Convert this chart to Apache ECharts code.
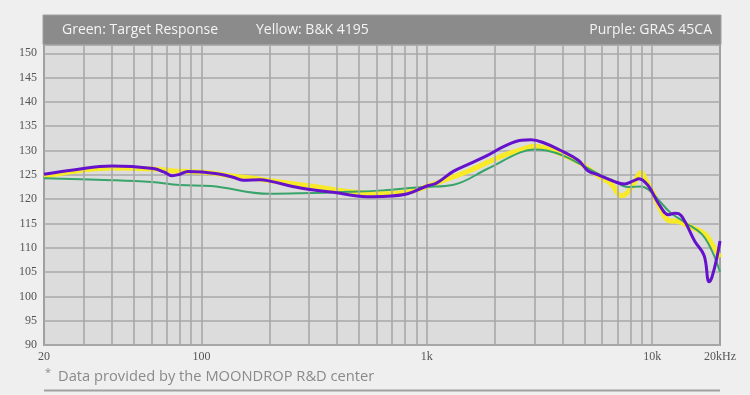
<!DOCTYPE html>
<html>
<head>
<meta charset="utf-8">
<script src="https://cdn.jsdelivr.net/npm/echarts@6/dist/echarts.min.js"></script>
<style>
html,body{margin:0;padding:0;background:#efefef;}
#c{width:750px;height:395px;}
</style>
</head>
<body>
<div id="c"></div>
<script>
// ---- data ----
const headerTexts = ['Green: Target Response', 'Yellow: B&K 4195', 'Purple: GRAS 45CA'];
const footnote = 'Data provided by the MOONDROP R&D center';
const yTicks = [90, 95, 100, 105, 110, 115, 120, 125, 130, 135, 140, 145, 150];
const xTickLabels = {20: '20', 100: '100', 1000: '1k', 10000: '10k', 20000: '20kHz'};
const gridFreqs = [30,40,50,60,70,80,90,100,200,300,400,500,600,700,800,900,1000,2000,3000,4000,5000,6000,7000,8000,9000,10000];

const greenF = [20,40,60,80,110,200,275,450,640,900,1000,1300,1850,2600,3000,3400,4000,4800,6000,6800,7800,8900,9600,10600,12000,14000,16600,18400,20000];
const greenV = [124.3,123.9,123.5,122.9,122.7,121.1,121.2,121.5,121.8,122.4,122.5,122.9,126.2,129.6,130.2,130.0,129.0,127.2,124.8,123.7,122.5,122.6,122.0,120.0,117.3,115.2,112.8,109.4,105.0];

const yellowF = [20,27,40,61,75,87,110,138,176,231,328,458,640,847,1000,1104,1552,2190,2630,3000,3440,4070,4830,5760,6560,7300,7680,8300,8930,9400,10130,10980,11840,13100,14970,17170,18800,20000];
const yellowV = [124.7,125.7,126.4,126.2,125.8,125.7,125.4,124.7,124.2,123.4,122.5,121.5,121.1,121.6,122.6,123.3,125.9,129.0,130.2,130.9,130.4,129.0,127.3,124.8,123.2,120.7,121.1,123.2,125.5,123.8,121.1,117.6,115.6,115.4,114.2,112.8,110.1,108.0];

const purpleF = [20,27,40,61,68,74,80,87,101,121,138,153,182,201,275,384,543,667,822,1000,1104,1310,1552,1858,2190,2630,2900,3300,3930,4700,5200,5760,6800,7520,8300,8730,9590,10640,11840,12600,13100,13970,15430,17000,17880,18430,19380,20000];
const purpleV = [125.1,126.0,126.8,126.3,125.6,124.8,125.1,125.7,125.6,125.1,124.5,123.9,124.0,123.7,122.3,121.4,120.5,120.6,121.1,122.7,123.3,125.7,127.3,129.0,130.8,132.1,132.2,131.6,130.0,128.0,125.8,125.0,123.6,123.1,123.8,124.2,122.8,119.2,116.8,117.1,117.0,115.4,111.4,108.4,103.0,104.0,108.0,111.4];

const pairs = (f, v) => f.map((x, i) => [x, v[i]]);

const chart = echarts.init(document.getElementById('c'), null, {renderer: 'canvas'});
const L = 44, R = 720, T = 44.5, B = 345;
chart.setOption({
  backgroundColor: '#efefef',
  animation: false,
  grid: {left: L, right: 750 - R, top: T, bottom: 395 - B, show: true,
         backgroundColor: '#dcdcdc', borderColor: '#a0a0a0', borderWidth: 2},
  xAxis: {
    type: 'log', logBase: 10, min: 20, max: 20000,
    axisLine: {show: false}, axisTick: {show: false},
    splitLine: {show: false}, minorSplitLine: {show: false},
    axisLabel: {
      showMinLabel: true, showMaxLabel: true,
      fontFamily: 'Liberation Serif', fontSize: 12, color: '#555', margin: 6,
      formatter: v => { const k = Math.round(v); return xTickLabels[k] !== undefined ? xTickLabels[k] : ''; }
    }
  },
  yAxis: {
    type: 'value', min: 90, max: 151.8, interval: 5,
    axisLine: {show: false}, axisTick: {show: false},
    splitLine: {show: true, lineStyle: {color: '#a8a8a8', width: 1.6}},
    axisLabel: {
      fontFamily: 'Liberation Serif', fontSize: 12, color: '#555', margin: 7,
      formatter: v => yTicks.indexOf(Math.round(v * 10) / 10) >= 0 ? String(v) : ''
    }
  },
  graphic: [
    {type: 'rect', shape: {x: L - 1, y: 15, width: R - L + 2, height: 29.5}, style: {fill: '#8b8b8b', stroke: '#a0a0a0', lineWidth: 1}, z: 10},
    {type: 'text', x: 62, y: 30, style: {text: headerTexts[0], fill: '#f4f4f4', font: '14px "Open Sans"', textVerticalAlign: 'middle'}, z: 11},
    {type: 'text', x: 256, y: 30, style: {text: headerTexts[1], fill: '#f4f4f4', font: '14px "Open Sans"', textVerticalAlign: 'middle'}, z: 11},
    {type: 'text', x: 712, y: 30, style: {text: headerTexts[2], fill: '#f4f4f4', font: '14px "Open Sans"', textAlign: 'right', textVerticalAlign: 'middle'}, z: 11},
    {type: 'text', x: 45, y: 373, style: {text: '*', fill: '#8a8a8a', font: '11px "Open Sans"', textVerticalAlign: 'middle'}, z: 11},
    {type: 'text', x: 58, y: 377, style: {text: footnote, fill: '#8a8a8a', font: '14.7px "Open Sans"', textVerticalAlign: 'middle'}, z: 11},
    {type: 'rect', shape: {x: L, y: 389.5, width: R - L, height: 2}, style: {fill: '#a0a0a0'}, z: 10}
  ],
  series: [
    {type: 'line', data: [], z: 1, silent: true,
     markLine: {silent: true, symbol: 'none', label: {show: false},
       lineStyle: {color: '#a8a8a8', width: 1.6, type: 'solid'},
       data: gridFreqs.map(f => ({xAxis: f}))}},
    {name: 'B&K 4195', type: 'line', data: pairs(yellowF, yellowV), smooth: 0.4, showSymbol: false, z: 3,
     lineStyle: {color: '#f8ea26', width: 5}},
    {name: 'Target', type: 'line', data: pairs(greenF, greenV), smooth: 0.4, showSymbol: false, z: 4,
     lineStyle: {color: '#38a46a', width: 2}},
    {name: 'GRAS 45CA', type: 'line', data: pairs(purpleF, purpleV), smooth: 0.4, showSymbol: false, z: 5,
     lineStyle: {color: '#6612cc', width: 3}}
  ]
});
</script>
</body>
</html>
